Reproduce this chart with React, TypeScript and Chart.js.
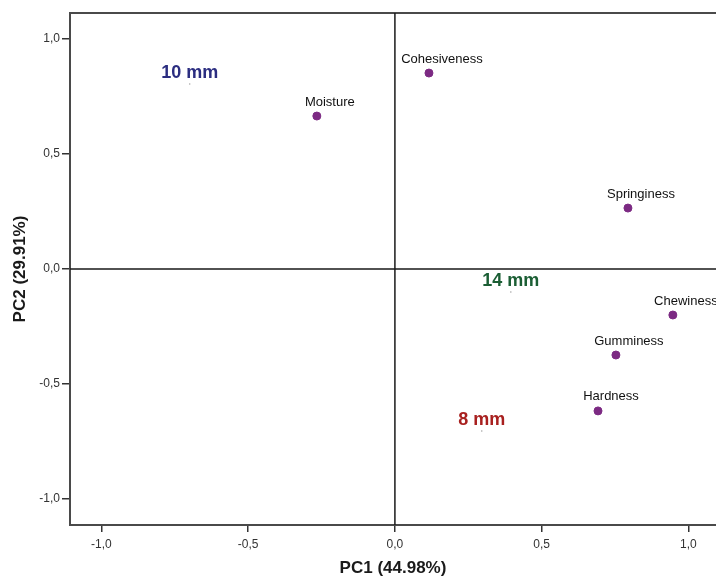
import React, { useEffect, useRef } from "react";
import { Chart, registerables } from "chart.js";

Chart.register(...registerables);

const variables = ["Cohesiveness", "Moisture", "Springiness", "Chewiness", "Gumminess", "Hardness"];
const pc1 = [0.116, -0.266, 0.794, 0.947, 0.753, 0.692];
const pc2 = [0.852, 0.665, 0.265, -0.2, -0.374, -0.617];

const groupLabels = ["10 mm", "14 mm", "8 mm"];
const groupPc1 = [-0.699, 0.395, 0.296];
const groupPc2 = [0.804, -0.1, -0.704];
const groupColors = ["#2b2d80", "#1b5e34", "#a8201f"];

const tickValues = [-1.0, -0.5, 0.0, 0.5, 1.0];
const xMin = -1.107;
const xMax = 1.094;
const yMin = -1.113;
const yMax = 1.113;

const FONT = "'Liberation Sans', Arial, sans-serif";

const overlayPlugin = {
  id: "overlay",
  beforeDatasetsDraw(chart: any) {
    const { ctx, chartArea, scales } = chart;
    const { left, top, right, bottom } = chartArea;
    ctx.save();
    ctx.strokeStyle = "#4a4a4a";
    ctx.lineWidth = 2;
    ctx.beginPath();
    ctx.moveTo(right + 2, top);
    ctx.lineTo(left, top);
    ctx.lineTo(left, bottom);
    ctx.lineTo(right + 2, bottom);
    ctx.stroke();
    const x0 = scales.x.getPixelForValue(0);
    const y0 = scales.y.getPixelForValue(0);
    ctx.strokeStyle = "#1a1a1a";
    ctx.lineWidth = 1.5;
    ctx.beginPath();
    ctx.moveTo(x0, top);
    ctx.lineTo(x0, bottom);
    ctx.moveTo(left, y0);
    ctx.lineTo(right + 2, y0);
    ctx.stroke();
    ctx.restore();
  },
  afterDatasetsDraw(chart: any) {
    const { ctx } = chart;
    ctx.save();
    ctx.textAlign = "center";
    ctx.textBaseline = "middle";
    const meta0 = chart.getDatasetMeta(0);
    ctx.font = `13px ${FONT}`;
    ctx.fillStyle = "#111";
    meta0.data.forEach((el: any, i: number) => {
      ctx.fillText(variables[i], el.x + 13, el.y - 14);
    });
    const meta1 = chart.getDatasetMeta(1);
    ctx.font = `bold 18px ${FONT}`;
    meta1.data.forEach((el: any, i: number) => {
      ctx.fillStyle = groupColors[i];
      ctx.fillText(groupLabels[i], el.x, el.y - 11);
    });
    ctx.restore();
  },
};

export default function App() {
  const ref = useRef<HTMLCanvasElement | null>(null);

  useEffect(() => {
    if (!ref.current) return;
    const chart = new Chart(ref.current, {
      type: "scatter",
      data: {
        datasets: [
          {
            label: "Variables",
            data: pc1.map((x, i) => ({ x, y: pc2[i] })),
            backgroundColor: "#7c2a83",
            borderColor: "#7c2a83",
            pointRadius: 4,
            pointHoverRadius: 4,
          },
          {
            label: "Groups",
            data: groupPc1.map((x, i) => ({ x, y: groupPc2[i] })),
            backgroundColor: "#999",
            borderColor: "#999",
            pointRadius: 0.7,
            borderWidth: 0,
          },
        ],
      },
      options: {
        animation: false,
        responsive: true,
        maintainAspectRatio: false,
        layout: { autoPadding: false, padding: { top: 13, left: 0, right: 0, bottom: 0 } },
        plugins: {
          legend: { display: false },
          tooltip: { enabled: false },
        },
        scales: {
          x: {
            type: "linear",
            min: xMin,
            max: xMax,
            afterBuildTicks: (axis: any) => {
              axis.ticks = tickValues.map((v) => ({ value: v }));
            },
            afterFit: (axis: any) => {
              axis.height = 52;
            },
            border: { display: false },
            grid: {
              drawOnChartArea: false,
              drawTicks: true,
              tickLength: 7,
              color: "#333",
              lineWidth: 1.5,
            },
            ticks: {
              padding: 5,
              color: "#333",
              font: { family: FONT, size: 12 },
              maxRotation: 0,
              callback: (v: any) => Number(v).toFixed(1).replace(".", ","),
            },
            title: {
              display: true,
              text: "PC1 (44.98%)",
              color: "#1a1a1a",
              font: { family: FONT, size: 17, weight: "bold", lineHeight: 1 },
              padding: { top: 0, bottom: 0.5 },
            },
          },
          y: {
            type: "linear",
            min: yMin,
            max: yMax,
            afterBuildTicks: (axis: any) => {
              axis.ticks = tickValues.map((v) => ({ value: v }));
            },
            afterFit: (axis: any) => {
              axis.width = 70;
            },
            border: { display: false },
            grid: {
              drawOnChartArea: false,
              drawTicks: true,
              tickLength: 8,
              color: "#333",
              lineWidth: 1.5,
            },
            ticks: {
              padding: 2,
              color: "#333",
              font: { family: FONT, size: 12 },
              callback: (v: any) => Number(v).toFixed(1).replace(".", ","),
            },
            title: {
              display: true,
              text: "PC2 (29.91%)",
              color: "#1a1a1a",
              font: { family: FONT, size: 17, weight: "bold", lineHeight: 1 },
              padding: { top: 12, bottom: 0 },
            },
          },
        },
      },
      plugins: [overlayPlugin],
    });
    return () => chart.destroy();
  }, []);

  return (
    <div style={{ position: "fixed", left: 0, top: 0, width: 716, height: 577, background: "#fff" }}>
      <canvas ref={ref} />
    </div>
  );
}
